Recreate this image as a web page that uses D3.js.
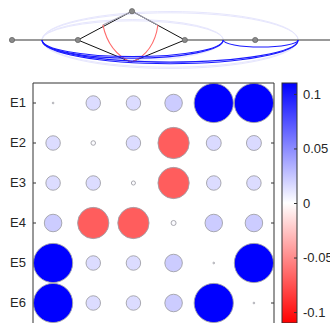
<!DOCTYPE html>
<html>
<head>
<meta charset="utf-8">
<script src="https://cdn.jsdelivr.net/npm/d3@7"></script>
<style>
  html, body { margin: 0; padding: 0; background: #fff; }
  svg { display: block; font-family: "Liberation Sans", Arial, sans-serif; }
</style>
</head>
<body>
<div id="chart"></div>
<script>
// Data
const rowLabels = ["E1", "E2", "E3", "E4", "E5", "E6"];
const colKeys = [1, 2, 3, 4, 5, 6];
const cellValues = [
    [0.0002, 0.015, 0.015, 0.022, 0.11, 0.11],
    [0.015, 0.0015, 0.015, -0.07, 0.016, 0.016],
    [0.015, 0.015, 0.0012, -0.07, 0.015, 0.015],
    [0.022, -0.07, -0.07, 0.0018, 0.022, 0.022],
    [0.11, 0.015, 0.015, 0.022, 0.0002, 0.11],
    [0.11, 0.015, 0.015, 0.022, 0.11, 0.0002]
];
const colorTicks = [0.1, 0.05, 0, -0.05, -0.1];

// graph sketch (abstract units, y = 0 is the baseline)
const nodeX = [0, 20.6, 54, 76, 37.5];
const nodeY = [0, 0, 0, 0, 9];
const diamondX = [20.6, 37.5, 54, 37.2];
const diamondY = [0, 9, 0, -6.9];
const redCurves = [
    { from: [28.4, 4.7], ctrl: [30.2, -3.9], to: [37.2, -6.9] },
    { from: [45.6, 4.7], ctrl: [44.4, -3.9], to: [37.5, -6.9] }
];
// ellipses between foci: [left, right, ry]
const lightEllipses = [[9.4, 66, 6.0], [9.4, 66, 6.4], [9.4, 89.4, 8.5], [9.4, 89.4, 8.9]];
const blueArcs = [[9.4, 66, 5.2], [9.4, 66, 5.7], [9.4, 89.4, 6.9], [9.4, 89.4, 7.4], [66, 89.4, 2.2]];

const W = 330, H = 323;
const vmax = 0.11;

const svg = d3.select("#chart").append("svg")
    .attr("width", W)
    .attr("height", H);

// ---------- graph on top ----------
const gx = d3.scaleLinear().domain([0, 100]).range([12, 332]);
const gy = d3.scaleLinear().domain([0, 10]).range([40, 8]);
const unit = gx(1) - gx(0);

const defs = svg.append("defs");
defs.append("clipPath").attr("id", "lower")
    .append("rect").attr("x", 0).attr("y", gy(0)).attr("width", W).attr("height", 40);

const graphG = svg.append("g");

graphG.selectAll(".light")
    .data(lightEllipses)
    .enter().append("ellipse")
    .attr("cx", d => (gx(d[0]) + gx(d[1])) / 2)
    .attr("cy", gy(0))
    .attr("rx", d => (gx(d[1]) - gx(d[0])) / 2)
    .attr("ry", d => d[2] * unit)
    .attr("fill", "none")
    .attr("stroke", "#e6e6fd")
    .attr("stroke-width", 1);

// baseline segments
graphG.append("line")
    .attr("x1", gx(nodeX[0])).attr("x2", gx(nodeX[1]))
    .attr("y1", gy(0)).attr("y2", gy(0))
    .attr("stroke", "#777").attr("stroke-width", 1.5);
graphG.append("line")
    .attr("x1", gx(nodeX[2])).attr("x2", W)
    .attr("y1", gy(0)).attr("y2", gy(0))
    .attr("stroke", "#777").attr("stroke-width", 1.5);

// diamond
const dpts = diamondX.map((x, i) => [gx(x), gy(diamondY[i])]);
const edges = [[0, 1], [1, 2], [2, 3], [3, 0]];
graphG.selectAll(".edge")
    .data(edges)
    .enter().append("line")
    .attr("x1", d => dpts[d[0]][0]).attr("y1", d => dpts[d[0]][1])
    .attr("x2", d => dpts[d[1]][0]).attr("y2", d => dpts[d[1]][1])
    .attr("stroke", "#111").attr("stroke-width", 1);

// lighter upper part of the diamond tip
graphG.selectAll(".tip")
    .data(redCurves)
    .enter().append("line")
    .attr("x1", d => gx(d.from[0])).attr("y1", d => gy(d.from[1]))
    .attr("x2", dpts[1][0]).attr("y2", dpts[1][1])
    .attr("stroke", "#a4a4b4").attr("stroke-width", 1.1);

graphG.selectAll(".red")
    .data(redCurves)
    .enter().append("path")
    .attr("d", d => {
        const p = d3.path();
        p.moveTo(gx(d.from[0]), gy(d.from[1]));
        p.quadraticCurveTo(gx(d.ctrl[0]), gy(d.ctrl[1]), gx(d.to[0]), gy(d.to[1]));
        return p.toString();
    })
    .attr("fill", "none")
    .attr("stroke", "#ff6b6b")
    .attr("stroke-width", 1.1);

graphG.selectAll(".blue")
    .data(blueArcs)
    .enter().append("ellipse")
    .attr("clip-path", "url(#lower)")
    .attr("cx", d => (gx(d[0]) + gx(d[1])) / 2)
    .attr("cy", gy(0))
    .attr("rx", d => (gx(d[1]) - gx(d[0])) / 2)
    .attr("ry", d => d[2] * unit)
    .attr("fill", "none")
    .attr("stroke", "#1a1aff")
    .attr("stroke-width", 1.1);

graphG.selectAll(".node")
    .data(nodeX)
    .enter().append("circle")
    .attr("cx", d => gx(d))
    .attr("cy", (d, i) => gy(nodeY[i]))
    .attr("r", 2.6)
    .attr("fill", "#8a8a8a")
    .attr("stroke", "#666")
    .attr("stroke-width", 0.8);

// ---------- bubble matrix ----------
const plot = { left: 33, right: 274, top: 83, bottom: 323 };

const x = d3.scaleBand().domain(colKeys).range([plot.left, plot.right]);
const y = d3.scaleBand().domain(rowLabels).range([plot.top, plot.bottom]);
const r = d3.scaleSqrt().domain([0, vmax]).range([0, 19.6]);
const color = d3.scaleLinear()
    .domain([-vmax, 0, vmax])
    .range(["#ff0000", "#ffffff", "#0000ff"]);

const yLeft = svg.append("g")
    .attr("transform", `translate(${plot.left},0)`)
    .call(d3.axisLeft(y).tickSize(-3).tickPadding(7));
yLeft.select(".domain").remove();
yLeft.selectAll("line").attr("stroke", "#333");
yLeft.selectAll("text")
    .attr("font-size", 13)
    .attr("font-family", "Liberation Sans, Arial, sans-serif")
    .attr("fill", "#262626");

const yRight = svg.append("g")
    .attr("transform", `translate(${plot.right},0)`)
    .call(d3.axisRight(y).tickSize(-3).tickFormat(""));
yRight.select(".domain").remove();
yRight.selectAll("line").attr("stroke", "#333");

const cells = [];
cellValues.forEach((row, i) => row.forEach((v, j) => cells.push({ row: rowLabels[i], col: colKeys[j], v })));

svg.append("g").selectAll("circle")
    .data(cells)
    .enter().append("circle")
    .attr("cx", d => x(d.col) + x.bandwidth() / 2)
    .attr("cy", d => y(d.row) + y.bandwidth() / 2)
    .attr("r", d => r(Math.abs(d.v)))
    .attr("fill", d => color(d.v))
    .attr("stroke", "#a0a0a8")
    .attr("stroke-width", 0.9);

// box
svg.append("path")
    .attr("d", `M${plot.left},${plot.bottom}V${plot.top}H${plot.right}V${plot.bottom}`)
    .attr("fill", "none")
    .attr("stroke", "#333")
    .attr("stroke-width", 1);

// ---------- colorbar ----------
const cb = { x: 282, w: 15 };
const cbY = d3.scaleLinear().domain([-vmax, vmax]).range([plot.bottom, plot.top]);

const grad = defs.append("linearGradient")
    .attr("id", "cbgrad")
    .attr("x1", 0).attr("y1", 1).attr("x2", 0).attr("y2", 0);
[-vmax, 0, vmax].forEach(v => {
    grad.append("stop")
        .attr("offset", (v + vmax) / (2 * vmax))
        .attr("stop-color", color(v));
});

svg.append("rect")
    .attr("x", cb.x).attr("y", plot.top)
    .attr("width", cb.w).attr("height", plot.bottom - plot.top)
    .attr("fill", "url(#cbgrad)")
    .attr("stroke", "#333")
    .attr("stroke-width", 1);

const cbAxis = svg.append("g")
    .attr("transform", `translate(${cb.x + cb.w},0)`)
    .call(d3.axisRight(cbY).tickValues(colorTicks).tickSize(-3).tickPadding(6).tickFormat(d => String(d)));
cbAxis.select(".domain").remove();
cbAxis.selectAll("line").attr("stroke", "#333");
cbAxis.selectAll("text")
    .attr("font-size", 13)
    .attr("font-family", "Liberation Sans, Arial, sans-serif")
    .attr("fill", "#262626");
</script>
</body>
</html>
